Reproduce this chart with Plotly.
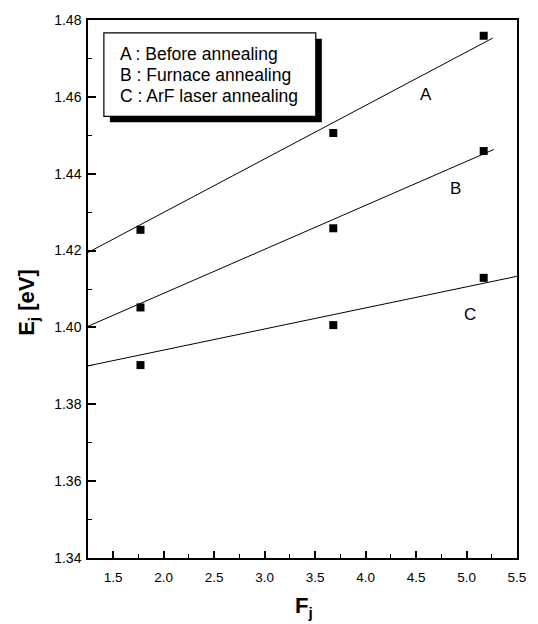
import plotly.graph_objects as go

# Data
fj = [1.77, 3.68, 5.17]
ej_a = [1.4254, 1.4506, 1.4759]
ej_b = [1.4052, 1.4258, 1.4459]
ej_c = [1.3902, 1.4006, 1.4129]

# Fitted line end points as drawn
fit_a_x = [1.25, 5.26]
fit_a_y = [1.4195, 1.4753]
fit_b_x = [1.25, 5.27]
fit_b_y = [1.4003, 1.4463]
fit_c_x = [1.25, 5.5]
fit_c_y = [1.3900, 1.4133]

curve_labels = ["A", "B", "C"]
label_x = [4.60, 4.895, 5.03]
label_y = [1.4606, 1.4361, 1.4034]

legend_lines = ["A : Before annealing", "B : Furnace annealing", "C : ArF laser annealing"]

x_ticks = [1.5, 2.0, 2.5, 3.0, 3.5, 4.0, 4.5, 5.0, 5.5]
y_ticks = [1.34, 1.36, 1.38, 1.40, 1.42, 1.44, 1.46, 1.48]

FONT = "Liberation Sans, Arial, sans-serif"

fig = go.Figure()
for fx, fy in [(fit_a_x, fit_a_y), (fit_b_x, fit_b_y), (fit_c_x, fit_c_y)]:
    fig.add_trace(go.Scatter(x=fx, y=fy, mode="lines",
                             line=dict(color="black", width=1), showlegend=False,
                             hoverinfo="skip"))
for ys in [ej_a, ej_b, ej_c]:
    fig.add_trace(go.Scatter(x=fj, y=ys, mode="markers",
                             marker=dict(symbol="square", size=8, color="black"),
                             showlegend=False))

for lx, ly, lt in zip(label_x, label_y, curve_labels):
    fig.add_annotation(x=lx, y=ly, text=lt, showarrow=False,
                       xanchor="center", yanchor="middle",
                       font=dict(family=FONT, size=17, color="black"))

# legend box with shadow (paper coords)
fig.add_shape(type="rect", xref="paper", yref="paper",
              x0=0.051, x1=0.545, y0=0.810, y1=0.965,
              fillcolor="black", line=dict(width=0), layer="above")
fig.add_shape(type="rect", xref="paper", yref="paper",
              x0=0.037, x1=0.531, y0=0.821, y1=0.976,
              fillcolor="white", line=dict(color="black", width=1.2), layer="above")
for i, t in enumerate(legend_lines):
    fig.add_annotation(xref="paper", yref="paper", x=0.069, y=[0.937, 0.897, 0.858][i],
                       text=t, showarrow=False, xanchor="left", yanchor="middle",
                       font=dict(family=FONT, size=17.5, color="black"))

fig.add_annotation(xref="paper", yref="paper", x=-0.139, y=0.475,
                   text="<b>E<sub>j</sub> [eV]</b>", textangle=-90, showarrow=False,
                   xanchor="center", yanchor="middle",
                   font=dict(family=FONT, size=22, color="black"))
fig.add_annotation(xref="paper", yref="paper", x=0.503, y=-0.092,
                   text="<b>F<sub>j</sub></b>", showarrow=False,
                   xanchor="center", yanchor="middle",
                   font=dict(family=FONT, size=22, color="black"))

fig.update_xaxes(range=[1.25, 5.5], tickvals=x_ticks,
                 ticktext=[f"{v:.1f}" for v in x_ticks],
                 ticks="inside", ticklen=7, tickwidth=1.5, tickcolor="black",
                 minor=dict(dtick=0.25, tick0=1.25, ticks="inside", ticklen=4,
                            tickcolor="black", tickwidth=1),
                 showline=True, linecolor="black", linewidth=2, mirror=True,
                 showgrid=False, zeroline=False, ticklabelstandoff=6,
                 tickfont=dict(family=FONT, size=13.5, color="black"))
fig.update_yaxes(range=[1.34, 1.48], tickvals=y_ticks,
                 ticktext=[f"{v:.2f}" for v in y_ticks],
                 ticks="inside", ticklen=8, tickwidth=1.5, tickcolor="black",
                 minor=dict(dtick=0.01, ticks="inside", ticklen=4,
                            tickcolor="black", tickwidth=1),
                 showline=True, linecolor="black", linewidth=1.5, mirror=True,
                 showgrid=False, zeroline=False, ticklabelstandoff=2,
                 tickfont=dict(family=FONT, size=14, color="black"))

fig.update_layout(width=538, height=624,
                  margin=dict(l=88, r=19, t=15, b=66),
                  plot_bgcolor="white", paper_bgcolor="white",
                  showlegend=False)

fig.write_html("out.html")
